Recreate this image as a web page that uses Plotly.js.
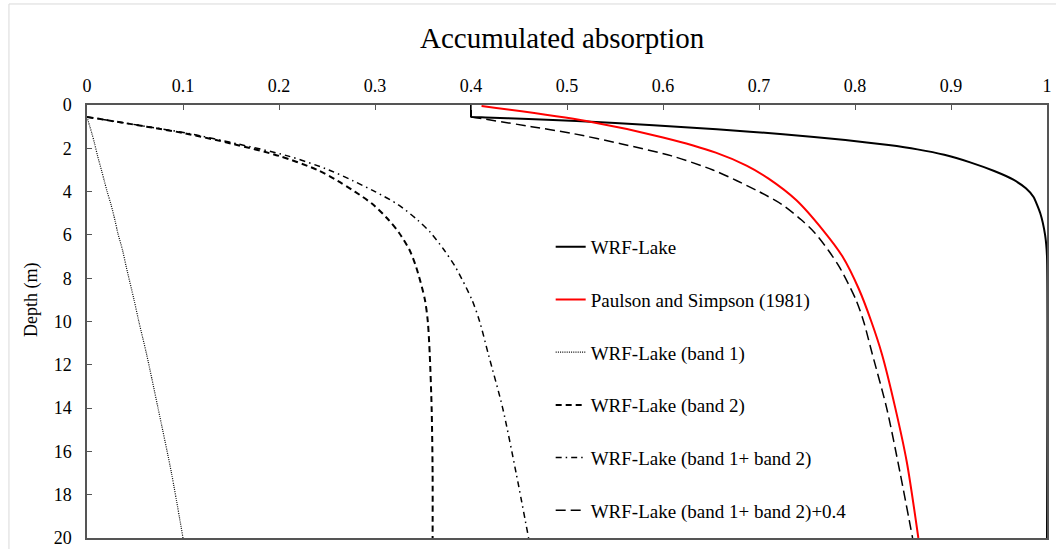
<!DOCTYPE html>
<html>
<head>
<meta charset="utf-8">
<script src="https://cdn.plot.ly/plotly-3.0.1.min.js"></script>
<style>html,body{margin:0;padding:0;background:#fff;}#chart{width:1056px;height:549px;}</style>
</head>
<body>
<div id="chart"></div>
<script>
// WRF-Lake total accumulated absorption vs depth (m)
const lakeDepth = [0, 0.52, 0.55, 0.575, 0.65, 0.74, 0.93, 1.12, 1.35, 1.62, 1.85, 2.05, 2.3, 2.65, 3.05, 3.45, 3.85, 4.25, 5.0, 6.0, 7.0, 20];
const lakeValue = [0.4, 0.4, 0.4, 0.415, 0.46, 0.51, 0.59, 0.656, 0.725, 0.79, 0.835, 0.865, 0.893, 0.92, 0.945, 0.965, 0.978, 0.986, 0.993, 0.998, 1.0, 1.0];

// Paulson and Simpson (1981)
const psDepth = [0.05, 0.74, 1.5, 2.2, 2.8, 3.4, 4.4, 5.8, 7.0, 8.5, 10, 11.5, 14, 16.5, 20];
const psValue = [0.411, 0.52, 0.60, 0.655, 0.687, 0.71, 0.739, 0.767, 0.787, 0.804, 0.817, 0.828, 0.842, 0.854, 0.866];

// Band curves (shared depths)
const bandDepth = [0.55, 1.0, 1.3, 1.8, 2.35, 3.0, 3.5, 4.0, 4.6, 5.3, 5.9, 6.7, 7.5, 9.0, 10, 11.5, 14, 17, 20];
const band1 = [0, 0.003, 0.005, 0.008, 0.011, 0.015, 0.018, 0.021, 0.025, 0.029, 0.032, 0.037, 0.041, 0.049, 0.054, 0.062, 0.074, 0.088, 0.100];
const band2 = [0, 0.062, 0.101, 0.152, 0.200, 0.240, 0.261, 0.279, 0.298, 0.314, 0.325, 0.336, 0.343, 0.352, 0.355, 0.357, 0.359, 0.360, 0.360];
const band12 = [0, 0.063, 0.104, 0.157, 0.209, 0.252, 0.277, 0.300, 0.324, 0.344, 0.358, 0.372, 0.384, 0.401, 0.409, 0.418, 0.433, 0.447, 0.460];
const band12p = [0.4, 0.463, 0.504, 0.557, 0.609, 0.652, 0.677, 0.700, 0.724, 0.744, 0.758, 0.772, 0.784, 0.801, 0.809, 0.818, 0.833, 0.847, 0.860];

const names = ["WRF-Lake", "Paulson and Simpson (1981)", "WRF-Lake (band 1)", "WRF-Lake (band 2)", "WRF-Lake (band 1+ band 2)", "WRF-Lake (band 1+ band 2)+0.4"];
const xTickVals = [0, 0.1, 0.2, 0.3, 0.4, 0.5, 0.6, 0.7, 0.8, 0.9, 1];
const yTickVals = [0, 2, 4, 6, 8, 10, 12, 14, 16, 18, 20];

const SERIF = "Liberation Serif, Times New Roman, serif";

function tr(x, y, name, color, width, dash, i, shape, sm) {
  return {x: x, y: y, name: name, type: "scatter", mode: "lines",
          legendgroup: "g" + i,
          line: {color: color, width: width, dash: dash, shape: shape, smoothing: sm}};
}

const data = [
  tr(lakeValue, lakeDepth, names[0], "#000000", 2, "solid", 0, "spline", 0.5),
  tr(psValue, psDepth, names[1], "#ff0000", 2, "solid", 1, "spline", 0.8),
  tr(band1, bandDepth, names[2], "#000000", 1.2, "1px,1.2px", 2, "spline", 0.8),
  tr(band2, bandDepth, names[3], "#000000", 2, "6px,4px", 3, "spline", 0.8),
  tr(band12, bandDepth, names[4], "#000000", 1.5, "6px,4px,1.5px,4px", 4, "spline", 0.8),
  tr(band12p, bandDepth, names[5], "#000000", 1.5, "10px,5px", 5, "spline", 0.8)
];

const layout = {
  width: 1056, height: 549,
  margin: {l: 87, r: 9, t: 105, b: 11},
  paper_bgcolor: "#ffffff", plot_bgcolor: "#ffffff",
  font: {family: SERIF, size: 18, color: "#000000"},
  showlegend: true,
  title: {text: "Accumulated absorption", font: {family: SERIF, size: 29, color: "#000"},
          xref: "paper", x: 0.495, xanchor: "center", yref: "container", y: 0.9308, yanchor: "middle"},
  xaxis: {side: "top", range: [0, 1], tickvals: xTickVals, ticks: "inside", ticklen: 5, tickwidth: 1.2,
          tickcolor: "#555", showline: true, linecolor: "#555", linewidth: 1.5, mirror: true,
          showgrid: false, zeroline: false, tickfont: {family: SERIF, size: 18}, ticklabelstandoff: 4},
  yaxis: {range: [20, 0], tickvals: yTickVals, ticks: "inside", ticklen: 5, tickwidth: 1.2,
          tickcolor: "#555", showline: true, linecolor: "#555", linewidth: 1.5, mirror: true,
          showgrid: false, zeroline: false, tickfont: {family: SERIF, size: 18}, ticklabelstandoff: 10},
  legend: {x: 0.483, xanchor: "left", y: 0.716, yanchor: "top", bgcolor: "rgba(0,0,0,0)",
           font: {family: SERIF, size: 19, color: "#000"}, tracegroupgap: 25, traceorder: "grouped"},
  annotations: [{text: "Depth (m)", textangle: -90, xref: "paper", yref: "paper",
                 x: -0.0573, y: 0.5497, xanchor: "center", yanchor: "middle", showarrow: false,
                 font: {family: SERIF, size: 18, color: "#000"}}],
  shapes: [{type: "rect", xref: "paper", yref: "paper", x0: -0.0813, x1: 1.2, y0: -0.2, y1: 1.2333,
            line: {color: "#d9d9d9", width: 1}, fillcolor: "rgba(0,0,0,0)", layer: "below"}]
};

Plotly.newPlot("chart", data, layout, {displayModeBar: false, responsive: false});
</script>
</body>
</html>
